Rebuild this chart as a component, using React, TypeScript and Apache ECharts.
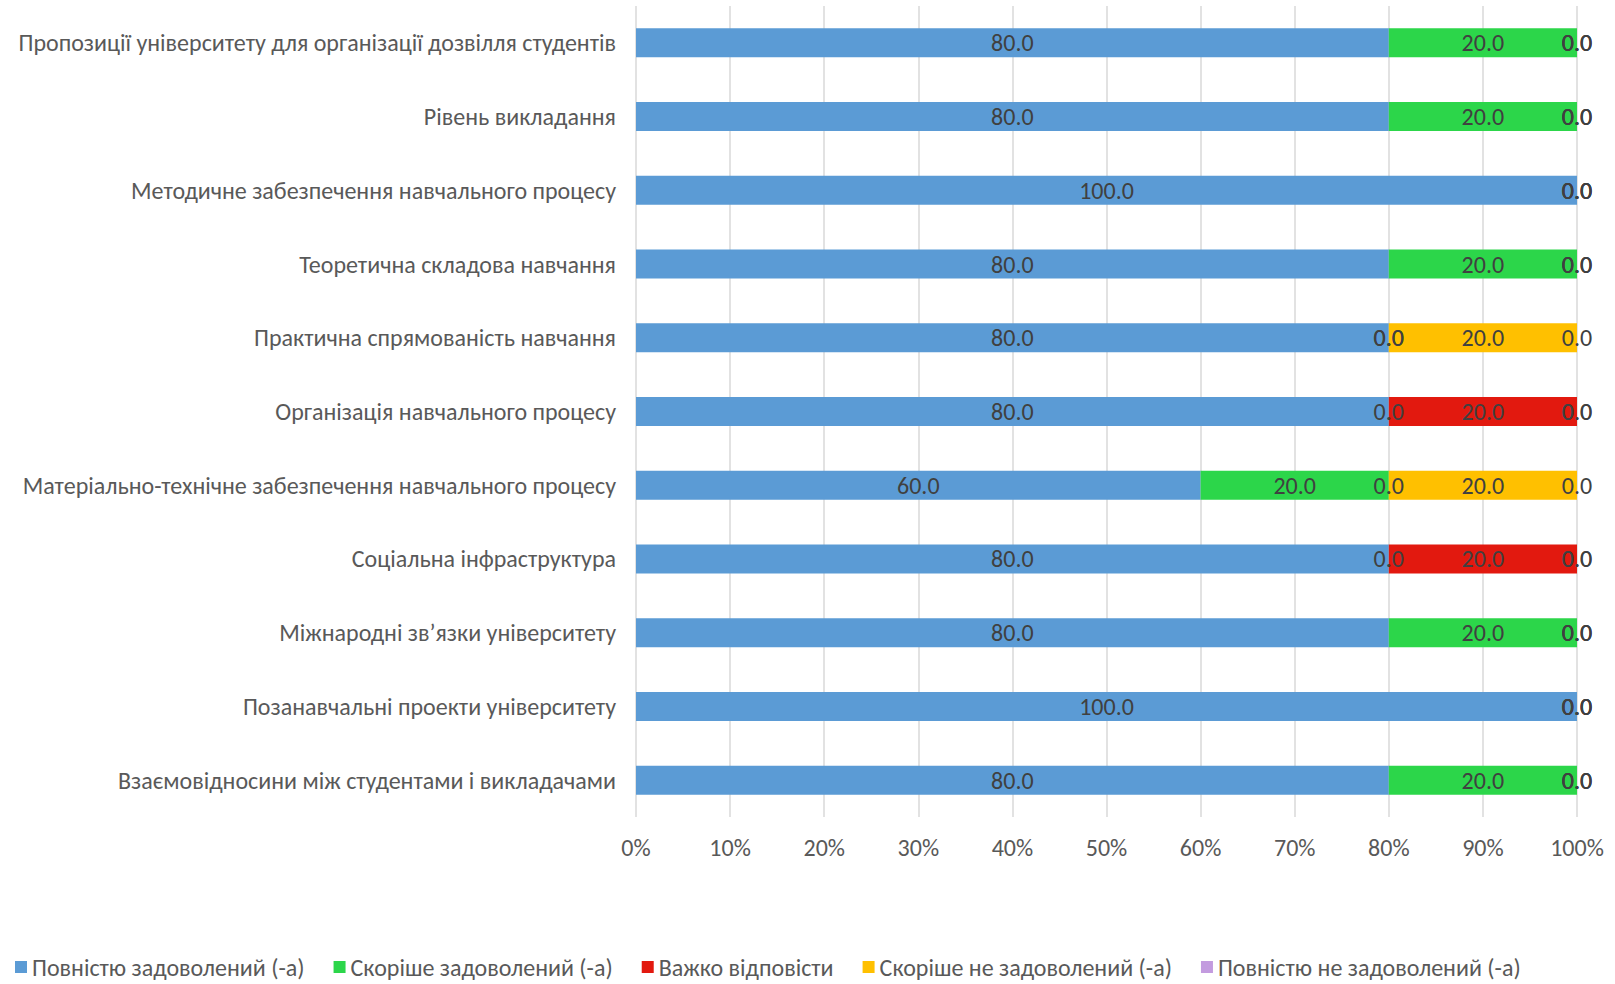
import React, { useEffect, useRef } from "react";
import * as echarts from "echarts";

const categories = [
  "Пропозиції університету для організації дозвілля студентів",
  "Рівень викладання",
  "Методичне забезпечення навчального процесу",
  "Теоретична складова навчання",
  "Практична спрямованість навчання",
  "Організація навчального процесу",
  "Матеріально-технічне забезпечення навчального процесу",
  "Соціальна інфраструктура",
  "Міжнародні зв’язки університету",
  "Позанавчальні проекти університету",
  "Взаємовідносини між студентами і викладачами",
];

const seriesNames = [
  "Повністю задоволений (-а)",
  "Скоріше задоволений (-а)",
  "Важко відповісти",
  "Скоріше не задоволений (-а)",
  "Повністю не задоволений (-а)",
];

const fullySatisfied = [80, 80, 100, 80, 80, 80, 60, 80, 80, 100, 80];
const ratherSatisfied = [20, 20, 0, 20, 0, 0, 20, 0, 20, 0, 20];
const hardToSay = [0, 0, 0, 0, 0, 20, 0, 20, 0, 0, 0];
const ratherNotSatisfied = [0, 0, 0, 0, 20, 0, 20, 0, 0, 0, 0];
const notSatisfied = [0, 0, 0, 0, 0, 0, 0, 0, 0, 0, 0];

const colors = ["#5B9BD5", "#2CD64A", "#E2190F", "#FFC000", "#C39BDF"];

const FONT = "'Liberation Sans Narrow', Carlito, 'Open Sans', sans-serif";
const FS = 24;

export default function App() {
  const ref = useRef<HTMLDivElement>(null);
  useEffect(() => {
    document.body.style.margin = "0";
    const chart = echarts.init(ref.current!, undefined, { renderer: "svg" });
    const data = [fullySatisfied, ratherSatisfied, hardToSay, ratherNotSatisfied, notSatisfied];
    chart.setOption({
      animation: false,
      color: colors,
      textStyle: { fontFamily: FONT },
      grid: { left: 636, right: 38, top: 6, height: 811, outerBoundsMode: "none" },
      xAxis: {
        type: "value",
        min: 0,
        max: 100,
        interval: 10,
        axisLabel: {
          formatter: "{value}%",
          color: "#595959",
          fontSize: FS,
          fontFamily: FONT,
          margin: 18,
        },
        axisLine: { show: false },
        axisTick: { show: false },
        splitLine: { lineStyle: { color: "#D9D9D9", width: 1.5 } },
      },
      yAxis: {
        type: "category",
        inverse: true,
        data: categories,
        axisLine: { show: false },
        axisTick: { show: false },
        axisLabel: { color: "#595959", fontSize: FS, fontFamily: FONT, margin: 20 },
      },
      legend: {
        left: 10,
        top: 950,
        width: 1595,
        icon: "rect",
        itemWidth: 12,
        itemHeight: 12,
        itemGap: 29,
        textStyle: { color: "#595959", fontSize: FS, fontFamily: FONT },
        data: seriesNames,
      },
      series: seriesNames.map((name, i) => ({
        name,
        type: "bar",
        stack: "total",
        barWidth: 29,
        data: data[i],
        label: {
          show: true,
          position: "inside",
          color: "#404040",
          fontSize: FS,
          fontFamily: FONT,
          formatter: (p: any) => Number(p.value).toFixed(1),
        },
      })),
    });
    return () => chart.dispose();
  }, []);
  return <div ref={ref} style={{ width: 1615, height: 984 }} />;
}
